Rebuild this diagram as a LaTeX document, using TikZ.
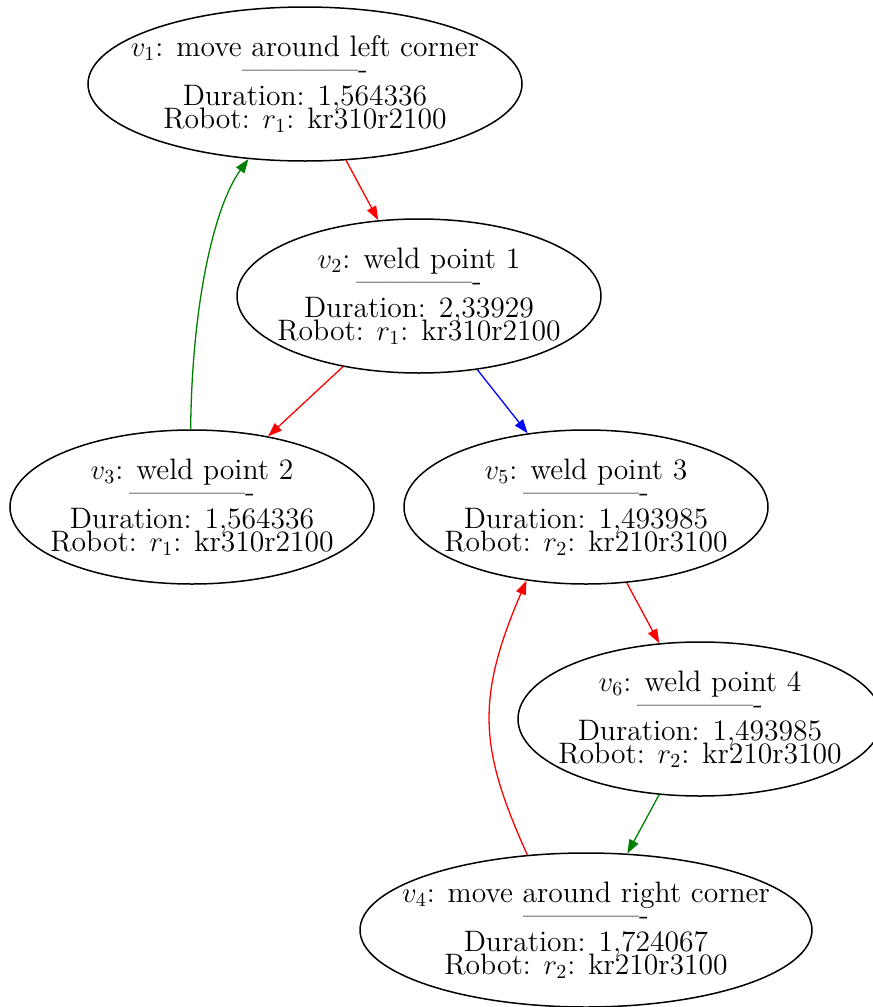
\documentclass[tikz,border=0pt]{standalone}
\usepackage{tikz}
\usetikzlibrary{shapes, arrows.meta, positioning}
\definecolor{edgegreen}{RGB}{0, 128, 0}
\lineskiplimit=-100pt

\begin{document}
\begin{tikzpicture}[x=0.5pt, y=-0.5pt,
    task/.style={draw, ellipse, line width=0.75pt, inner ysep=0pt, inner xsep=-40pt,
      minimum width=182pt, minimum height=77pt, align=center,
      font=\fontsize{14.8}{11.2}\selectfont},
    widetask/.style={task, minimum width=#1},
    link/.style={-{Triangle[length=7pt, width=5pt]}, line width=0.65pt}]
  \useasboundingbox (0,0) rectangle (873,1007);

  % tasks
  \node[widetask=217pt] (v1) at (305,84) {$v_1$: move around left corner\\-------------\\[2.3pt]Duration: 1,564336\\Robot: $r_1$: kr310r2100};
  \node[task] (v2) at (419,296) {$v_2$: weld point 1\\-------------\\[2.3pt]Duration: 2,33929\\Robot: $r_1$: kr310r2100};
  \node[task] (v3) at (192,507) {$v_3$: weld point 2\\-------------\\[2.3pt]Duration: 1,564336\\Robot: $r_1$: kr310r2100};
  \node[task] (v5) at (586,507) {$v_5$: weld point 3\\-------------\\[2.3pt]Duration: 1,493985\\Robot: $r_2$: kr210r3100};
  \node[task] (v6) at (700,719) {$v_6$: weld point 4\\-------------\\[2.3pt]Duration: 1,493985\\Robot: $r_2$: kr210r3100};
  \node[widetask=226pt] (v4) at (586,930) {$v_4$: move around right corner\\-------------\\[2.3pt]Duration: 1,724067\\Robot: $r_2$: kr210r3100};

  % precedences
  \draw[link, red] (v1) -- (v2);
  \draw[link, red] (v2) -- (v3);
  \draw[link, blue] (v2) -- (v5);
  \draw[link, red] (v5) -- (v6);
  \draw[link, edgegreen] (v6) -- (v4);
  \draw[link, edgegreen] (v3.91) .. controls (192,300) and (215,205) .. (v1.-127);
  \draw[link, red] (v4.128) .. controls (480,750) and (475,700) .. (v5.-129);
\end{tikzpicture}
\end{document}
